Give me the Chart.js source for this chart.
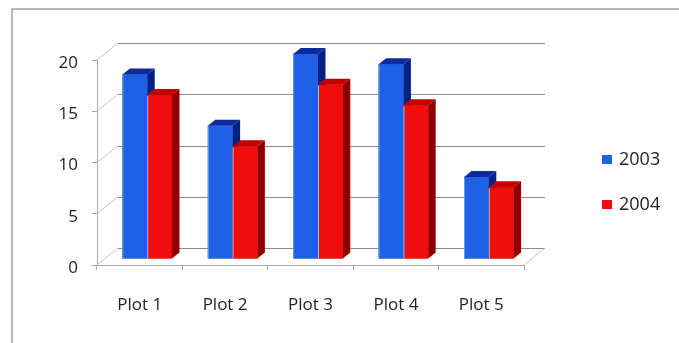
<!DOCTYPE html>
<html>
<head>
<meta charset="utf-8">
<script src="https://cdn.jsdelivr.net/npm/chart.js@4.4.1/dist/chart.umd.min.js"></script>
<style>
  html, body { margin: 0; padding: 0; background: #fff; }
  canvas { display: block; }
</style>
</head>
<body>
<canvas id="chart" width="679" height="343"></canvas>
<script>
// Categories, series and axis ticks
const categories = ['Plot 1', 'Plot 2', 'Plot 3', 'Plot 4', 'Plot 5'];
const seriesNames = ['2003', '2004'];
const values2003 = [18, 13, 20, 19, 8];
const values2004 = [16, 11, 17, 15, 7];
const yTicks = [0, 5, 10, 15, 20];

const FONT = '"Open Sans", sans-serif';
const TEXT = '#1f1f24';
const AXIS = '#a8a8a8';

// Depth of the floor/back wall, depth position of the bars and their own depth
const WALL = { dx: 21, dy: -17 };
const BAR_POS = { dx: 7.5, dy: -6 };
const BAR_DEPTH = { dx: 7.5, dy: -6 };

// Face colours for the extruded columns
const faces2003 = { front: '#1f61e6', side: '#06207f', top: '#0c2a9c', edge: '#5aa0f5' };
const faces2004 = { front: '#f00d0d', side: '#8a0000', top: '#c20000', edge: '#f7a2a2' };

function drawFaces(ctx, bar, f) {
  const { x, y, base, width } = bar.getProps(['x', 'y', 'base', 'width'], true);
  const l = x - width / 2, r = x + width / 2;
  const top = Math.min(y, base), bot = Math.max(y, base);
  ctx.fillStyle = f.side;
  ctx.beginPath();
  ctx.moveTo(r, top);
  ctx.lineTo(r + BAR_DEPTH.dx, top + BAR_DEPTH.dy);
  ctx.lineTo(r + BAR_DEPTH.dx, bot + BAR_DEPTH.dy);
  ctx.lineTo(r, bot);
  ctx.closePath();
  ctx.fill();
  ctx.fillStyle = f.top;
  ctx.beginPath();
  ctx.moveTo(l, top);
  ctx.lineTo(l + BAR_DEPTH.dx, top + BAR_DEPTH.dy);
  ctx.lineTo(r + BAR_DEPTH.dx, top + BAR_DEPTH.dy);
  ctx.lineTo(r, top);
  ctx.closePath();
  ctx.fill();
  ctx.strokeStyle = f.edge;
  ctx.lineWidth = 1;
  ctx.beginPath();
  ctx.moveTo(l + 0.5, top + 1);
  ctx.lineTo(l + 0.5, bot);
  ctx.stroke();
}

const box3d = {
  id: 'box3d',
  beforeDraw(chart) {
    const { ctx, width, height } = chart;
    ctx.save();
    ctx.fillStyle = '#fff';
    ctx.fillRect(0, 0, width, height);
    ctx.strokeStyle = '#a3a3a3';
    ctx.lineWidth = 1.5;
    ctx.beginPath();
    ctx.moveTo(12, height);
    ctx.lineTo(12, 9);
    ctx.lineTo(width, 9);
    ctx.stroke();
    ctx.restore();
  },
  beforeDatasetsDraw(chart) {
    const { ctx, chartArea: a, scales: { y } } = chart;
    ctx.save();
    ctx.lineWidth = 1;
    // back wall gridlines
    ctx.strokeStyle = '#8c8c8c';
    y.ticks.forEach(t => {
      const py = Math.round(y.getPixelForValue(t.value) + WALL.dy) + 0.5;
      ctx.beginPath();
      ctx.moveTo(a.left + WALL.dx, py);
      ctx.lineTo(a.right + WALL.dx, py);
      ctx.stroke();
    });
    // side wall gridlines
    ctx.strokeStyle = '#c4c4c4';
    y.ticks.forEach(t => {
      const py = y.getPixelForValue(t.value);
      ctx.beginPath();
      ctx.moveTo(a.left, py);
      ctx.lineTo(a.left + WALL.dx, py + WALL.dy);
      ctx.stroke();
    });
    // right edge of the floor
    ctx.beginPath();
    ctx.moveTo(a.right, a.bottom);
    ctx.lineTo(a.right + WALL.dx, a.bottom + WALL.dy);
    ctx.stroke();
    ctx.restore();
    // columns stand part-way back on the floor
    ctx.save();
    ctx.translate(BAR_POS.dx, BAR_POS.dy);
  },
  afterDatasetsDraw(chart) {
    const ctx = chart.ctx;
    // paint series left to right so each column's side is covered by its neighbour
    chart.data.datasets.forEach((ds, i) => {
      chart.getDatasetMeta(i).data.forEach(bar => {
        bar.draw(ctx);
        drawFaces(ctx, bar, ds.faces);
      });
    });
    ctx.restore();
  },
  afterDraw(chart) {
    const ctx = chart.ctx;
    ctx.save();
    ctx.font = '18px ' + FONT;
    ctx.textBaseline = 'alphabetic';
    ctx.textAlign = 'left';
    const rows = [165, 210];
    chart.data.datasets.forEach((ds, i) => {
      const by = rows[i];
      ctx.fillStyle = ds.faces.front;
      ctx.fillRect(602, by - 10, 10, 9);
      ctx.fillStyle = TEXT;
      ctx.fillText(ds.label, 619, by);
    });
    ctx.restore();
  }
};

new Chart(document.getElementById('chart'), {
  type: 'bar',
  data: {
    labels: categories,
    datasets: [
      { label: seriesNames[0], data: values2003, backgroundColor: faces2003.front, faces: faces2003 },
      { label: seriesNames[1], data: values2004, backgroundColor: faces2004.front, faces: faces2004 }
    ]
  },
  options: {
    responsive: false,
    animation: false,
    devicePixelRatio: 1,
    layout: { padding: { top: 60, right: 155, bottom: 0, left: 0 } },
    datasets: { bar: { barPercentage: 1, categoryPercentage: 0.58, borderWidth: 0 } },
    plugins: { legend: { display: false }, tooltip: { enabled: false } },
    scales: {
      x: {
        afterFit: s => { s.height = 78; },
        grid: { drawOnChartArea: false, offset: true, tickLength: 5, color: AXIS },
        border: { display: true, color: AXIS },
        ticks: { color: TEXT, padding: 25, font: { family: FONT, size: 17 } }
      },
      y: {
        min: 0,
        max: 20,
        afterFit: s => { s.width = 97; },
        afterBuildTicks: s => { s.ticks = yTicks.map(v => ({ value: v })); },
        grid: { drawOnChartArea: false, tickLength: 5, color: AXIS },
        border: { display: true, color: AXIS },
        ticks: { color: TEXT, padding: 14, labelOffset: 3, font: { family: FONT, size: 17 } }
      }
    }
  },
  plugins: [box3d]
});
</script>
</body>
</html>
